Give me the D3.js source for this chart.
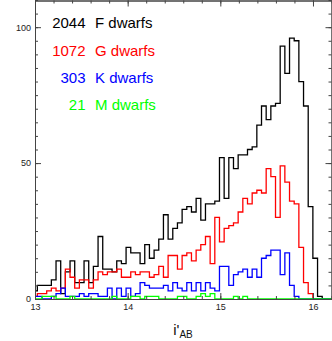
<!DOCTYPE html>
<html><head><meta charset="utf-8">
<script src="https://cdn.jsdelivr.net/npm/d3@7"></script>
<style>html,body{margin:0;padding:0;background:#fff}svg{display:block}</style>
</head><body>
<script>
// histogram bins: first bin starts at binStart, each bin binWidth wide
const binStart = 12.975;
const binWidth = 0.0504;
const fCounts = [3,5,5,5,7,14,2,10,14,6, 6,14,6,12,23,11,11,10,14,13, 19,17,17,13,20,15,18,22,31,22, 26,28,33,34,32,37,29,35,35,36, 52,37,52,48,53,53,55,56,64,71, 66,71,72,93,83,96,95,80,71,34, 15,1,0];
const gCounts = [1,2,2,3,4,3,4,11,8,4, 7,7,4,7,10,9,10,10,11,8, 8,10,9,10,10,8,9,12,8,16, 16,11,16,17,14,18,20,23,13,30, 21,26,27,28,32,37,35,39,40,39, 48,45,30,49,43,36,35,19,6,2, 0,0,0];
const kCounts = [1,1,0,0,1,2,4,1,1,1, 2,1,2,2,1,1,4,0,4,1, 4,1,2,6,5,4,4,4,5,3, 6,4,3,6,3,6,3,6,4,3, 12,12,5,9,10,11,8,11,8,15, 16,18,18,9,17,5,1,0,0,0, 0,0,0];
const mCounts = [0,0,1,1,1,0,0,0,1,0, 0,0,0,0,0,0,0,1,0,0, 0,1,1,0,1,1,1,0,0,0, 0,1,1,0,0,1,2,1,2,0, 0,0,0,1,0,1,0,0,0,0, 0,0,0,0,0,0,0,0,0,0, 0,0,0];
const seriesTotals = ["2044","1072","303","21"];
const seriesNames = ["F dwarfs","G dwarfs","K dwarfs","M dwarfs"];
const seriesColors = ["#000000","#ff0000","#0000ff","#00ff00"];
const xTicks = [13,14,15,16];
const xMinorTicks = d3.range(13,16.21,0.2).map(v=>+v.toFixed(2));
const yTicks = [0,50,100];
const yMinorTicks = d3.range(0,111,5);

const W = 332, H = 341;
const L = 35, R = 331.5, T = 0, B = 299;
const svg = d3.select("body").append("svg").attr("width",W).attr("height",H)
  .style("font-family","'Liberation Sans', Arial, Helvetica, sans-serif");

const x = d3.scaleLinear().domain([13,16.2]).range([L,R]);
const y = d3.scaleLinear().domain([0,110]).range([B,T]);

svg.append("defs").append("clipPath").attr("id","clip")
  .append("rect").attr("x",L).attr("y",T).attr("width",R-L).attr("height",B-T+1);

const series = [fCounts,gCounts,kCounts,mCounts];
const line = d3.line().x(d=>x(d[0])).y(d=>y(d[1])).curve(d3.curveStepAfter);
const g = svg.append("g").attr("clip-path","url(#clip)");
series.forEach((counts,i)=>{
  const pts = counts.map((c,k)=>[binStart+k*binWidth,c]);
  pts.push([16.4,0]);
  g.append("path").attr("d",line(pts)).attr("fill","none")
    .attr("stroke",seriesColors[i]).attr("stroke-width",1.3);
});

// axes (ticks inward)
const axisColor = "#444";
function styleAxis(sel){
  sel.selectAll("path").attr("stroke",axisColor).attr("stroke-width",1);
  sel.selectAll("line").attr("stroke",axisColor).attr("stroke-width",1);
  sel.selectAll("text").attr("fill","#222").style("font-size","9px")
    .style("font-family","'Liberation Sans', Arial, sans-serif");
}
svg.append("g").attr("transform",`translate(0,${B})`)
  .call(d3.axisBottom(x).tickValues(xMinorTicks).tickSize(-3).tickFormat("").tickSizeOuter(0)).call(styleAxis);
svg.append("g").attr("transform",`translate(0,${B})`)
  .call(d3.axisBottom(x).tickValues(xTicks).tickSize(-6).tickPadding(5).tickSizeOuter(0).tickFormat(d3.format("d"))).call(styleAxis);
svg.append("g").attr("transform",`translate(0,${T+0.5})`)
  .call(d3.axisTop(x).tickValues(xMinorTicks).tickSize(-3).tickFormat("").tickSizeOuter(0)).call(styleAxis);
svg.append("g").attr("transform",`translate(0,${T+0.5})`)
  .call(d3.axisTop(x).tickValues(xTicks).tickSize(-6).tickFormat("").tickSizeOuter(0)).call(styleAxis);
svg.append("g").attr("transform",`translate(${L},0)`)
  .call(d3.axisLeft(y).tickValues(yMinorTicks).tickSize(-3).tickFormat("").tickSizeOuter(0)).call(styleAxis);
svg.append("g").attr("transform",`translate(${L},0)`)
  .call(d3.axisLeft(y).tickValues(yTicks).tickSize(-6).tickPadding(4).tickSizeOuter(0).tickFormat(d3.format("d"))).call(styleAxis);
svg.append("g").attr("transform",`translate(${R},0)`)
  .call(d3.axisRight(y).tickValues(yMinorTicks).tickSize(-3).tickFormat("").tickSizeOuter(0)).call(styleAxis);
svg.append("g").attr("transform",`translate(${R},0)`)
  .call(d3.axisRight(y).tickValues(yTicks).tickSize(-6).tickFormat("").tickSizeOuter(0)).call(styleAxis);

// legend
const legY = [28.3,55.6,82.9,110.2];
seriesNames.forEach((n,i)=>{
  svg.append("text").attr("x",85.5).attr("y",legY[i]).attr("text-anchor","end")
    .attr("fill",seriesColors[i]).style("font-size","15px").text(seriesTotals[i]);
  svg.append("text").attr("x",95).attr("y",legY[i])
    .attr("fill",seriesColors[i]).style("font-size","15px").text(n);
});

// x title
const t = svg.append("text").attr("x",183).attr("y",335).attr("text-anchor","middle").attr("fill","#111");
t.append("tspan").style("font-size","15px").text("i'");
t.append("tspan").style("font-size","10px").attr("dy",2.5).text("AB");
</script>
</body></html>
